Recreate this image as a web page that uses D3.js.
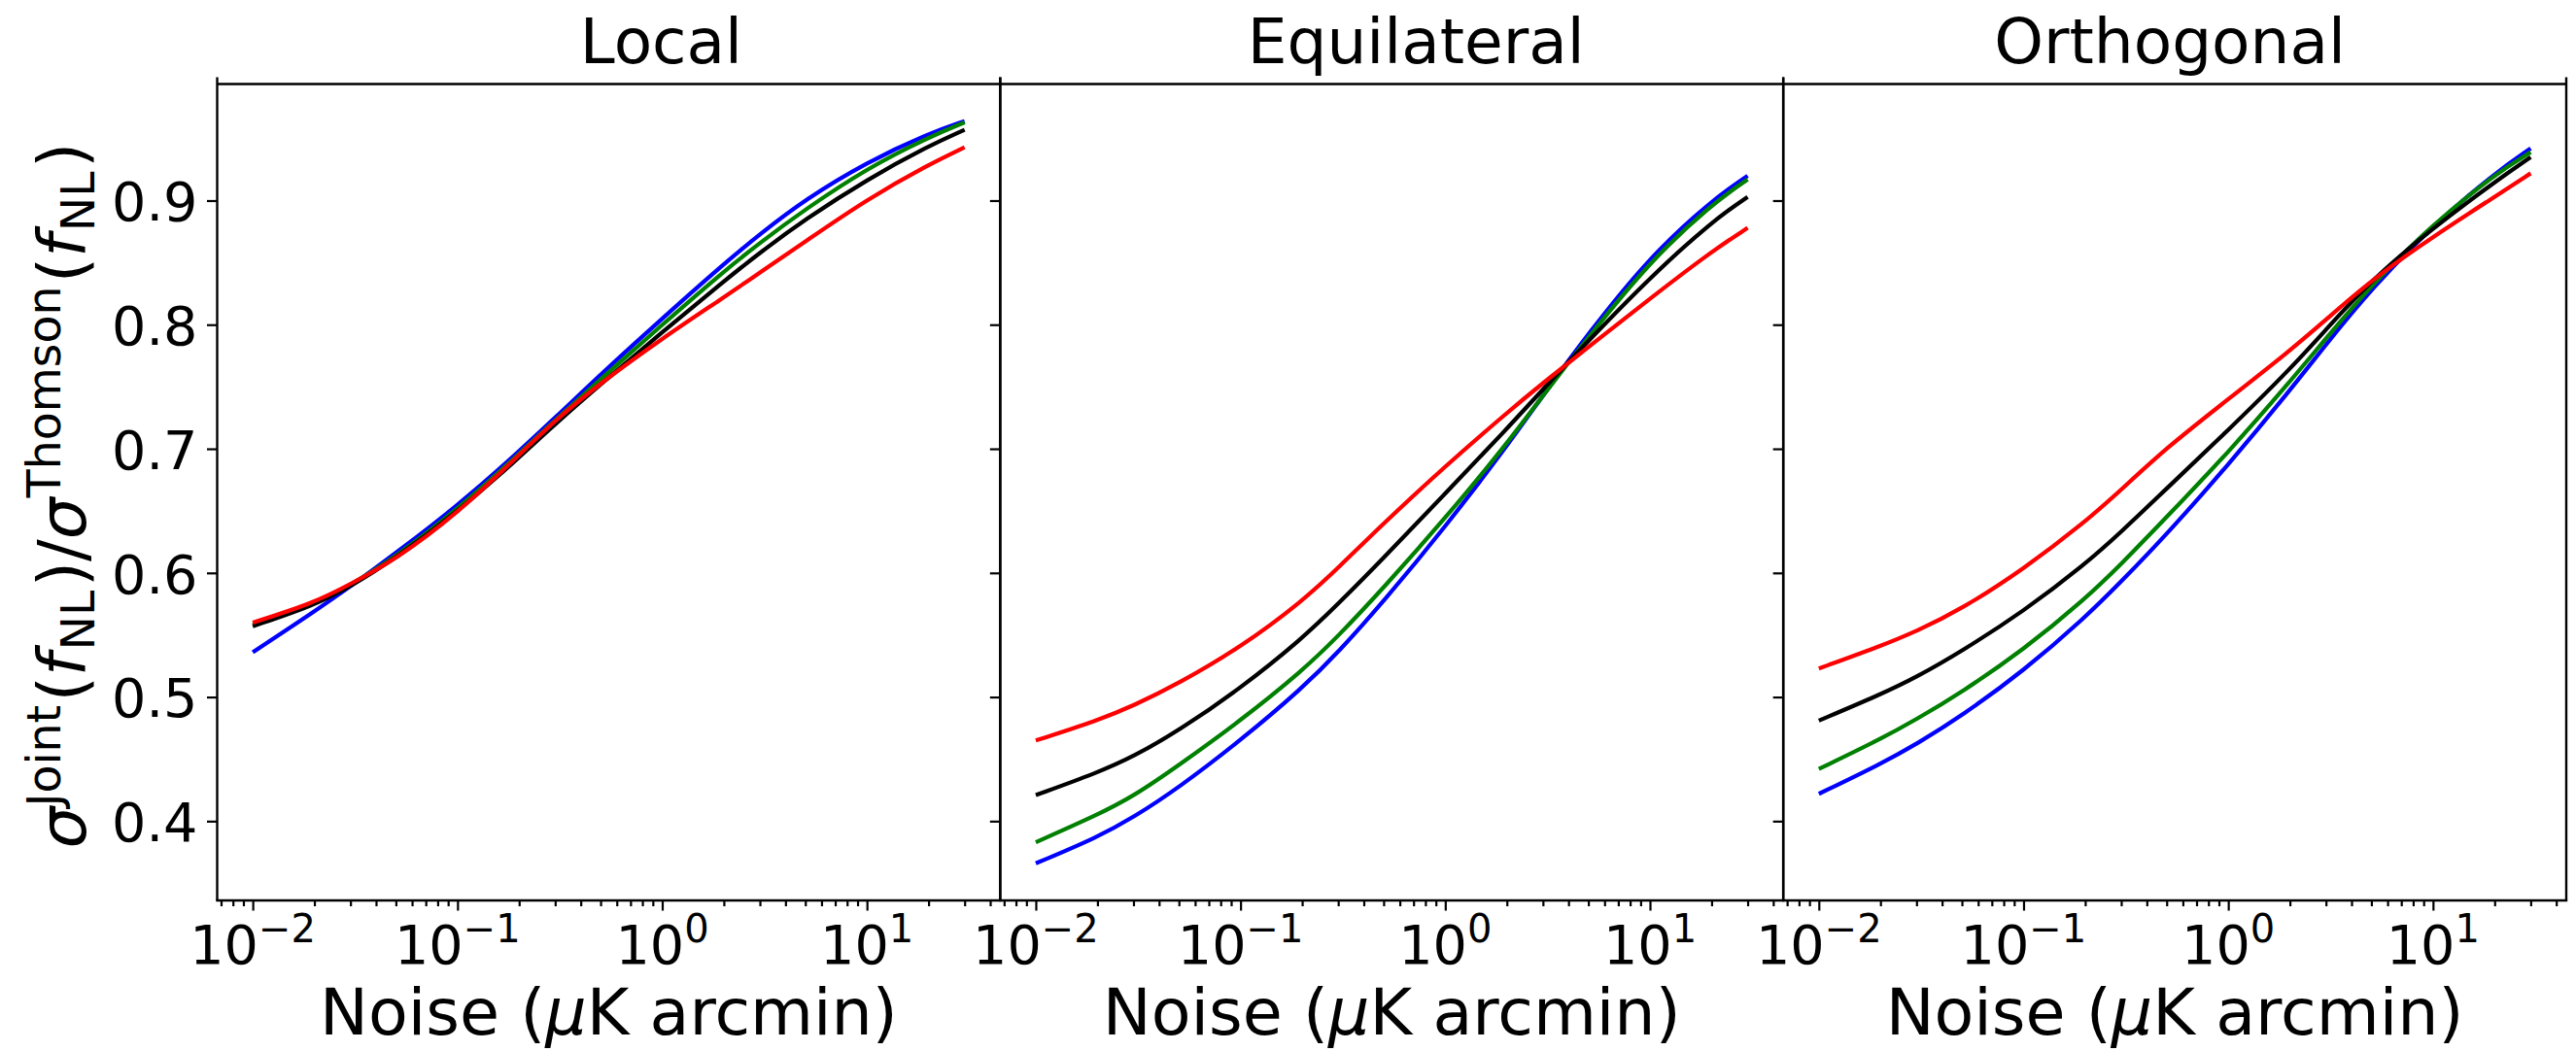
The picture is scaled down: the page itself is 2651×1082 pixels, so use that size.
<!DOCTYPE html>
<html>
<head>
<meta charset="utf-8">
<script src="https://cdn.jsdelivr.net/npm/d3@7"></script>
<style>
  html, body { margin: 0; padding: 0; background: #ffffff; }
  svg { display: block; }
  text { font-family: "DejaVu Sans", sans-serif; fill: #000; }
</style>
</head>
<body>
<script>
// Noise levels (μK arcmin) at which the ratio was evaluated
const noise = [0.01, 0.02, 0.03, 0.05, 0.1, 0.2, 0.3, 0.5, 1, 2, 3, 5, 10, 20, 30];

// Local shape
const localBlue  = [0.536, 0.569, 0.589, 0.616, 0.654, 0.698, 0.725, 0.760, 0.805, 0.849, 0.873, 0.901, 0.931, 0.954, 0.964];
const localGreen = [0.558, 0.575, 0.590, 0.613, 0.651, 0.696, 0.723, 0.756, 0.800, 0.843, 0.866, 0.893, 0.926, 0.951, 0.963];
const localBlack = [0.557, 0.574, 0.589, 0.612, 0.649, 0.693, 0.720, 0.752, 0.794, 0.835, 0.858, 0.885, 0.917, 0.944, 0.957];
const localRed   = [0.560, 0.576, 0.591, 0.611, 0.648, 0.695, 0.723, 0.753, 0.789, 0.822, 0.842, 0.867, 0.901, 0.929, 0.943];

// Equilateral shape
const equilBlue  = [0.366, 0.387, 0.403, 0.427, 0.465, 0.507, 0.536, 0.577, 0.637, 0.702, 0.743, 0.793, 0.855, 0.900, 0.920];
const equilGreen = [0.383, 0.405, 0.420, 0.445, 0.481, 0.521, 0.549, 0.588, 0.644, 0.704, 0.743, 0.790, 0.851, 0.897, 0.917];
const equilBlack = [0.421, 0.439, 0.452, 0.473, 0.507, 0.547, 0.575, 0.612, 0.664, 0.716, 0.748, 0.787, 0.838, 0.883, 0.903];
const equilRed   = [0.465, 0.481, 0.493, 0.511, 0.540, 0.577, 0.604, 0.640, 0.686, 0.729, 0.753, 0.782, 0.821, 0.859, 0.878];

// Orthogonal shape
const orthoBlue  = [0.422, 0.446, 0.462, 0.485, 0.521, 0.564, 0.593, 0.631, 0.687, 0.747, 0.784, 0.829, 0.880, 0.922, 0.942];
const orthoGreen = [0.442, 0.466, 0.482, 0.504, 0.538, 0.579, 0.607, 0.645, 0.697, 0.754, 0.789, 0.832, 0.881, 0.921, 0.939];
const orthoBlack = [0.481, 0.502, 0.516, 0.537, 0.569, 0.607, 0.633, 0.668, 0.715, 0.764, 0.796, 0.836, 0.878, 0.915, 0.935];
const orthoRed   = [0.523, 0.541, 0.553, 0.571, 0.603, 0.641, 0.667, 0.701, 0.740, 0.779, 0.804, 0.836, 0.871, 0.903, 0.922];

const panelTitles = ["Local", "Equilateral", "Orthogonal"];
const seriesColors = ["#0000ff", "#008000", "#000000", "#ff0000"];
const panelSeries = [
  [localBlue, localGreen, localBlack, localRed],
  [equilBlue, equilGreen, equilBlack, equilRed],
  [orthoBlue, orthoGreen, orthoBlack, orthoRed]
];

const yTicks = [0.4, 0.5, 0.6, 0.7, 0.8, 0.9];
const xMajorTicks = [0.01, 0.1, 1, 10];
const xMajorExponents = ["\u22122", "\u22121", "0", "1"];

// y-axis label pieces: σ^Joint(f_NL)/σ^Thomson(f_NL)
const yLabelPieces = [
  { t: "\u03c3", it: true }, { t: "Joint", sup: true },
  { t: "(" }, { t: "f", it: true }, { t: "NL", sub: true }, { t: ")" },
  { t: "/" },
  { t: "\u03c3", it: true }, { t: "Thomson", sup: true },
  { t: "(" }, { t: "f", it: true }, { t: "NL", sub: true }, { t: ")" }
];

// ---- layout ----
const W = 2651, H = 1082;
const plotTop = 86.5, plotBottom = 927;
const plotLeft = 223.5, panelW = 805.83;
const FS = 66.7, TFS = 55.6, TITLE_FS = 64.5;
const titleShift = [54, 25, -5];

const svg = d3.select("body").append("svg")
  .attr("width", W).attr("height", H);

// log x with 5% padding of the 0.01–30 data span
const lx0 = Math.log10(0.01), lx1 = Math.log10(30);
const padX = (lx1 - lx0) * 0.05;
const xDomain = [Math.pow(10, lx0 - padX), Math.pow(10, lx1 + padX)];

// y shared by all panels, 5% padding of the data span
const allY = panelSeries.flat(2);
const yMin = d3.min(allY), yMax = d3.max(allY);
const padY = (yMax - yMin) * 0.05;
const y = d3.scaleLinear().domain([yMin - padY, yMax + padY]).range([plotBottom, plotTop]);

// minor x ticks (2..9 × decade) inside the visible range
const xMinorTicks = [];
for (let e = -3; e <= 1; e++) {
  for (let m = 2; m <= 9; m++) {
    const v = m * Math.pow(10, e);
    if (v >= xDomain[0] && v <= xDomain[1]) xMinorTicks.push(v);
  }
}

panelSeries.forEach((series, p) => {
  const x0 = plotLeft + p * panelW, x1 = x0 + panelW;
  const x = d3.scaleLog().domain(xDomain).range([x0, x1]);
  const g = svg.append("g");

  // curves
  const line = d3.line()
    .x((d, i) => x(noise[i]))
    .y(d => y(d))
    .curve(d3.curveBasis);
  series.forEach((vals, s) => {
    g.append("path")
      .datum(vals)
      .attr("d", line)
      .attr("fill", "none")
      .attr("stroke", seriesColors[s])
      .attr("stroke-width", 4.2)
      .attr("stroke-linejoin", "round");
  });

  // x ticks: major and minor
  const majorAxis = d3.axisBottom(x).tickValues(xMajorTicks).tickSize(10.5);
  const minorAxis = d3.axisBottom(x).tickValues(xMinorTicks).tickSize(6);
  [majorAxis, minorAxis].forEach(ax => {
    const a = g.append("g").attr("transform", `translate(0,${plotBottom})`).call(ax);
    a.select(".domain").remove();
    a.selectAll("text").remove();
    a.selectAll("line").attr("stroke", "#000").attr("stroke-width", 2.2);
  });

  // x tick labels as 10^n
  xMajorTicks.forEach((v, i) => {
    const t = g.append("text")
      .attr("x", x(v)).attr("y", 992)
      .style("font-size", TFS + "px");
    t.append("tspan").text("10");
    t.append("tspan").attr("dy", -22).style("font-size", (TFS * 0.72) + "px").text(xMajorExponents[i]);
    const w = t.node().getComputedTextLength();
    t.attr("x", x(v) - w / 2);
  });

  // y ticks (outward on each panel's left edge)
  const yAxis = d3.axisLeft(y).tickValues(yTicks).tickSize(10.5).tickFormat(d3.format(".1f"));
  const ya = g.append("g").attr("transform", `translate(${x0},0)`).call(yAxis);
  ya.select(".domain").remove();
  ya.selectAll("line").attr("stroke", "#000").attr("stroke-width", 2.2);
  if (p === 0) {
    ya.selectAll("text")
      .attr("x", -20)
      .attr("dy", "0.365em")
      .style("font-family", "'DejaVu Sans', sans-serif")
      .style("font-size", TFS + "px")
      .attr("fill", "#000");
  } else {
    ya.selectAll("text").remove();
  }

  // frame
  const frame = g.append("g").attr("stroke", "#000").attr("stroke-width", 2.4);
  frame.append("line").attr("x1", x0).attr("x2", x0).attr("y1", plotTop - 7).attr("y2", plotBottom);
  frame.append("line").attr("x1", x1).attr("x2", x1).attr("y1", plotTop - 7).attr("y2", plotBottom);
  frame.append("line").attr("x1", x0).attr("x2", x1).attr("y1", plotTop).attr("y2", plotTop);
  frame.append("line").attr("x1", x0 - 1.2).attr("x2", x1 + 1.2).attr("y1", plotBottom).attr("y2", plotBottom);

  // title
  g.append("text")
    .attr("x", (x0 + x1) / 2 + titleShift[p]).attr("y", 65)
    .attr("text-anchor", "middle")
    .style("font-size", TITLE_FS + "px")
    .text(panelTitles[p]);

  // x label
  const xl = g.append("text")
    .attr("y", 1065)
    .style("font-size", FS + "px");
  xl.append("tspan").text("Noise (");
  xl.append("tspan").style("font-style", "italic").text("\u03bc");
  xl.append("tspan").text("K arcmin)");
  xl.attr("x", (x0 + x1) / 2 - xl.node().getComputedTextLength() / 2);
});

// y label laid out piece by piece inside a rotated group
const labelSpan = 727, labelCenter = 510, labelBaseX = 88;
function layoutYLabel(fs) {
  svg.selectAll(".ylabel").remove();
  const lg = svg.append("g").attr("class", "ylabel");
  let cx = 0;
  yLabelPieces.forEach(pc => {
    const small = pc.sup || pc.sub;
    const t = lg.append("text")
      .attr("x", cx)
      .attr("y", pc.sup ? -0.39 * fs : pc.sub ? 0.14 * fs : 0)
      .style("font-size", (small ? 0.7 * fs : fs) + "px")
      .style("font-style", pc.it ? "italic" : "normal")
      .text(pc.t);
    cx += t.node().getComputedTextLength();
    if (small) cx += 0.05 * fs;
    if (pc.t === "f") cx += 0.04 * fs;
  });
  return { lg, len: cx };
}
let lab = layoutYLabel(FS);
lab = layoutYLabel(FS * labelSpan / lab.len);
lab.lg.attr("transform", `translate(${labelBaseX},${labelCenter + lab.len / 2}) rotate(-90)`);
</script>
</body>
</html>
